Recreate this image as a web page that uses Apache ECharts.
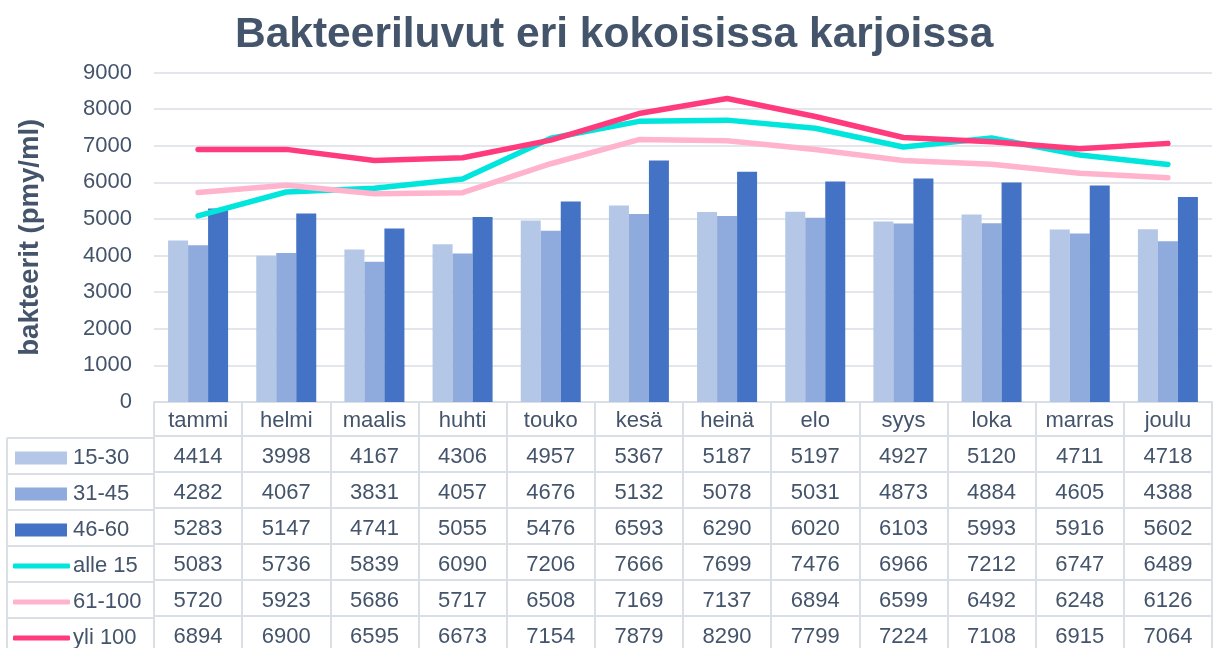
<!DOCTYPE html>
<html>
<head>
<meta charset="utf-8">
<script src="https://cdn.jsdelivr.net/npm/echarts@6/dist/echarts.min.js"></script>
<style>
html,body{margin:0;padding:0;background:#fff;}
#chart{width:1213px;height:648px;}
</style>
</head>
<body>
<div id="chart"></div>
<script>
const categories = ['tammi','helmi','maalis','huhti','touko','kesä','heinä','elo','syys','loka','marras','joulu'];
const s15_30  = [4414,3998,4167,4306,4957,5367,5187,5197,4927,5120,4711,4718];
const s31_45  = [4282,4067,3831,4057,4676,5132,5078,5031,4873,4884,4605,4388];
const s46_60  = [5283,5147,4741,5055,5476,6593,6290,6020,6103,5993,5916,5602];
const alle15  = [5083,5736,5839,6090,7206,7666,7699,7476,6966,7212,6747,6489];
const s61_100 = [5720,5923,5686,5717,6508,7169,7137,6894,6599,6492,6248,6126];
const yli100  = [6894,6900,6595,6673,7154,7879,8290,7799,7224,7108,6915,7064];
const yTicks = {min:0, max:9000, interval:1000};
const titleText = 'Bakteeriluvut eri kokoisissa karjoissa';
const yName = 'bakteerit (pmy/ml)';

const rows = [
  {name:'15-30',  data:s15_30,  type:'bar',  color:'#b4c7e7'},
  {name:'31-45',  data:s31_45,  type:'bar',  color:'#8faadc'},
  {name:'46-60',  data:s46_60,  type:'bar',  color:'#4472c4'},
  {name:'alle 15',data:alle15,  type:'line', color:'#00e5dc'},
  {name:'61-100', data:s61_100, type:'line', color:'#ffb3cc'},
  {name:'yli 100',data:yli100,  type:'line', color:'#ff3b7e'}
];

const FONT = '"Liberation Sans", Arial, sans-serif';
const TXT = '#44546a';
const LINE = '#dadee5';
const plotTop = 72.5, plotBottom = 404, tableLeft = 7, plotLeft = 154;
const row0H = 34, rowH = 36;

const chart = echarts.init(document.getElementById('chart'), null, {renderer:'canvas'});

function tableAxis(data, offset, tickLen, margin){
  return {
    type:'category', position:'bottom', offset:offset, data:data, boundaryGap:true,
    axisLine:{show:true, lineStyle:{color:LINE, width:2}},
    axisTick:{show:true, interval:0, length:tickLen, alignWithLabel:false, lineStyle:{color:LINE, width:2}},
    axisLabel:{interval:0, margin:margin, fontSize:22, color:TXT, fontFamily:FONT},
    splitLine:{show:false}
  };
}

const xAxes = [tableAxis(categories, 0, row0H, 8)];
rows.forEach((r,i)=>{
  xAxes.push(tableAxis(r.data.map(String), row0H + rowH*i, rowH, 10));
});

const series = rows.map(r=>{
  if(r.type==='bar'){
    return {name:r.name, type:'bar', xAxisIndex:0, data:r.data, barWidth:20, barGap:'0%',
      itemStyle:{color:r.color}, z:2};
  }
  return {name:r.name, type:'line', xAxisIndex:0, data:r.data, symbol:'none', showSymbol:false,
    lineStyle:{color:r.color, width:5.5, cap:'round', join:'round'}, itemStyle:{color:r.color}, z:3};
});

const legends = rows.map((r,i)=>{
  const cy = plotBottom + row0H + rowH*i + rowH/2;
  const isBar = r.type==='bar';
  return {
    data:[{name:r.name, icon: isBar ? 'rect' : 'roundRect'}],
    left: isBar ? 15 : 13, top: cy - 9,
    padding:0, selectedMode:false,
    itemWidth: isBar ? 52 : 57, itemHeight: isBar ? 13 : 5,
    textStyle:{fontSize:22, color:TXT, fontFamily:FONT, padding:[0,0,0, isBar?1:-2]}
  };
});

const graphics = [];
for(let i=0;i<6;i++){
  const y = plotBottom + row0H + rowH*i;
  graphics.push({type:'line', shape:{x1:tableLeft, y1:y, x2:plotLeft, y2:y}, style:{stroke:LINE, lineWidth:2}, silent:true});
}
graphics.push({type:'line', shape:{x1:tableLeft, y1:plotBottom+row0H, x2:tableLeft, y2:648}, style:{stroke:LINE, lineWidth:2}, silent:true});

chart.setOption({
  animation:false,
  backgroundColor:'#ffffff',
  title:{text:titleText, left:230, top:9,
    textStyle:{fontSize:42.5, fontWeight:'bold', color:TXT, fontFamily:FONT}},
  grid:{left:plotLeft, right:1, top:plotTop, bottom:648-plotBottom, containLabel:false},
  legend:legends,
  xAxis:xAxes,
  yAxis:{type:'value', min:yTicks.min, max:yTicks.max, interval:yTicks.interval,
    name:yName, nameLocation:'middle', nameGap:110,
    nameTextStyle:{fontSize:27.5, fontWeight:'bold', color:TXT, fontFamily:FONT},
    axisLine:{show:false}, axisTick:{show:false},
    axisLabel:{fontSize:22, color:TXT, fontFamily:FONT, margin:22, formatter:v=>String(v)},
    splitLine:{show:true, lineStyle:{color:LINE, width:1.5}}},
  series:series,
  graphic:graphics
});
</script>
</body>
</html>
